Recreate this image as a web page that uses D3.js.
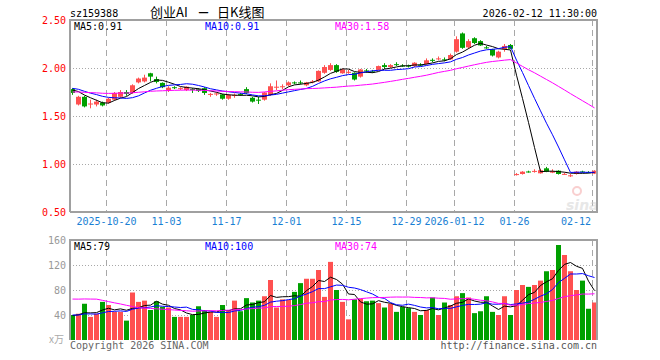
<!DOCTYPE html>
<html><head><meta charset="utf-8">
<script src="https://cdn.jsdelivr.net/npm/d3@7"></script>
<style>body{margin:0;background:#fff}svg{display:block}</style>
</head><body>
<svg id="c" width="660" height="360"></svg>
<script>
// ---------------- data ----------------
const dates = [
"2025-10-10","2025-10-13","2025-10-14","2025-10-15","2025-10-16","2025-10-17","2025-10-20","2025-10-21","2025-10-22","2025-10-23","2025-10-24","2025-10-27","2025-10-28","2025-10-29","2025-10-30","2025-10-31",
"2025-11-03","2025-11-04","2025-11-05","2025-11-06","2025-11-07","2025-11-10","2025-11-11","2025-11-12","2025-11-13","2025-11-14","2025-11-17","2025-11-18","2025-11-19","2025-11-20","2025-11-21","2025-11-24","2025-11-25","2025-11-26","2025-11-27","2025-11-28",
"2025-12-01","2025-12-02","2025-12-03","2025-12-04","2025-12-05","2025-12-08","2025-12-09","2025-12-10","2025-12-11","2025-12-12","2025-12-15","2025-12-16","2025-12-17","2025-12-18","2025-12-19","2025-12-22","2025-12-23","2025-12-24","2025-12-25","2025-12-26","2025-12-29","2025-12-30","2025-12-31",
"2026-01-05","2026-01-06","2026-01-07","2026-01-08","2026-01-09","2026-01-12","2026-01-13","2026-01-14","2026-01-15","2026-01-16","2026-01-19","2026-01-20","2026-01-21","2026-01-22","2026-01-23","2026-01-26","2026-01-27","2026-01-28","2026-01-29","2026-01-30",
"2026-02-02","2026-02-03","2026-02-04","2026-02-05","2026-02-06","2026-02-09","2026-02-10","2026-02-11","2026-02-12"];

const openP = [1.78,1.62,1.70,1.62,1.62,1.64,1.64,1.67,1.70,1.75,1.74,1.85,1.86,1.945,1.885,1.845,
1.77,1.80,1.78,1.77,1.78,1.78,1.79,1.725,1.73,1.725,1.68,1.715,1.73,1.78,1.69,1.67,1.67,1.72,1.80,1.80,
1.82,1.85,1.85,1.82,1.855,1.86,1.95,1.98,2.03,1.945,1.955,1.95,1.91,1.975,1.965,1.98,2.03,2.01,2.04,2.025,2.025,2.02,2.035,
2.04,2.085,2.095,2.09,2.09,2.17,2.36,2.215,2.31,2.28,2.215,2.195,2.11,2.195,2.24,0.89,0.896,0.922,0.925,0.903,
0.955,0.91,0.93,0.893,0.878,0.896,0.922,0.915,0.90];
const highP = [1.79,1.71,1.71,1.67,1.67,1.65,1.69,1.75,1.77,1.77,1.83,1.90,1.93,1.95,1.91,1.85,
1.81,1.81,1.80,1.81,1.79,1.79,1.80,1.74,1.745,1.73,1.73,1.735,1.74,1.80,1.70,1.70,1.75,1.84,1.87,1.83,
1.86,1.86,1.87,1.855,1.875,1.975,2.03,2.05,2.04,1.995,1.98,1.955,1.99,1.99,1.98,2.025,2.05,2.04,2.06,2.04,2.035,2.06,2.05,
2.10,2.10,2.12,2.11,2.15,2.33,2.37,2.30,2.32,2.29,2.23,2.20,2.18,2.25,2.25,0.905,0.925,0.93,0.945,0.95,
0.97,0.945,0.935,0.91,0.895,0.925,0.93,0.925,0.935];
const lowP = [1.72,1.61,1.59,1.58,1.60,1.60,1.63,1.66,1.69,1.71,1.73,1.84,1.85,1.86,1.84,1.79,
1.75,1.78,1.77,1.76,1.74,1.75,1.72,1.70,1.71,1.67,1.67,1.69,1.71,1.73,1.64,1.625,1.66,1.71,1.77,1.78,
1.81,1.83,1.83,1.81,1.84,1.855,1.94,1.97,1.95,1.94,1.94,1.87,1.90,1.95,1.95,1.975,1.99,2.00,2.02,2.01,2.005,2.01,2.02,
2.035,2.06,2.08,2.07,2.085,2.16,2.20,2.20,2.25,2.23,2.20,2.12,2.10,2.17,2.20,0.88,0.89,0.91,0.91,0.90,
0.915,0.905,0.89,0.89,0.865,0.89,0.91,0.905,0.895];
const closeP = [1.74,1.70,1.60,1.63,1.65,1.61,1.68,1.74,1.75,1.73,1.82,1.89,1.90,1.91,1.855,1.80,
1.795,1.795,1.79,1.805,1.77,1.76,1.74,1.73,1.735,1.68,1.72,1.72,1.72,1.74,1.65,1.665,1.745,1.81,1.805,1.81,
1.85,1.845,1.845,1.85,1.86,1.97,2.01,2.03,1.96,1.985,1.96,1.88,1.985,1.97,1.96,2.02,2.01,2.03,2.035,2.02,2.02,2.055,2.03,
2.08,2.08,2.10,2.085,2.135,2.30,2.21,2.28,2.26,2.235,2.21,2.13,2.17,2.23,2.20,0.895,0.92,0.92,0.928,0.935,
0.92,0.925,0.896,0.897,0.882,0.92,0.918,0.91,0.93];
// volume, unit 万
const volume = [40,42,58,37,42,61,56,45,45,31,76,61,63,48,62,53,
52,37,37,37,40,54,48,45,37,56,48,63,46,67,60,63,70,96,52,65,
64,77,91,98,98,112,69,125,80,61,33,65,66,62,63,59,52,58,45,53,51,45,40,
48,68,40,60,56,70,75,68,43,46,70,45,40,70,40,80,88,85,88,95,
110,112,152,136,110,80,95,50,60];
// closes / volumes of the 29 sessions before the first visible day (estimated from the starting MA levels)
const priorCloses = [1.70,1.72,1.71,1.73,1.74,1.72,1.70,1.69,1.71,1.73,1.75,1.74,1.76,1.75,1.74,1.72,1.73,1.75,1.76,1.78,1.80,1.81,1.82,1.80,1.79,1.79,1.78,1.77,1.78];
const priorVolumes = [45,50,42,45,120,115,105,100,95,130,120,80,68,80,72,70,58,55,55,60,42,40,38,45,40,35,42,38,40];

const priceTicks = [2.5,2.0,1.5,1.0,0.5];
const volTicks = [160,120,80,40];
const gridDates = ["2025-10-20","2025-11-03","2025-11-17","2025-12-01","2025-12-15","2025-12-29","2026-01-12","2026-01-26","2026-02-12"];
const gridLabels = ["2025-10-20","11-03","11-17","12-01","12-15","12-29","2026-01-12","01-26","02-12"];
const maPeriods = [5,10,30];
const maColors = ["#000000","#0000ff","#ff00ff"];
const code = "sz159388";
const titleParts = ["创业AI", "一", "日K线图"];
const stamp = "2026-02-12 11:30:00";

// ---------------- layout ----------------
const L = 70, R = 597, T = 20, B = 212, VT = 240, VB = 340;
const RED = "#ff5050", GREEN = "#00a000", GRID = "#a8a8a8", MONO = "'DejaVu Sans Mono','Liberation Mono',monospace";
const CJK = "'Noto Sans CJK SC',sans-serif";

const svg = d3.select("#c");
const x = d3.scaleBand().domain(dates).range([69.5, 597.5]).padding(0);
const cx = d => x(d) + 3;
const y = d3.scaleLinear().domain([0.5, 2.5]).range([B, T]);
const yv = d3.scaleLinear().domain([0, 160]).range([VB, VT]);

function ma(series, prior, n) {
  const full = prior.concat(series), off = prior.length;
  return series.map((_, i) => d3.mean(full.slice(i + off - n + 1, i + off + 1)));
}
const isUp = i => closeP[i] >= openP[i];

// clip paths
const defs = svg.append("defs");
defs.append("clipPath").attr("id","cp").append("rect").attr("x",L).attr("y",T).attr("width",R-L).attr("height",B-T);
defs.append("clipPath").attr("id","cv").append("rect").attr("x",L).attr("y",VT).attr("width",R-L).attr("height",VB-VT);

// header
svg.append("text").attr("x",L).attr("y",16.5).attr("font-family",MONO).attr("font-size",10).attr("fill","#000").text(code);
svg.append("text").attr("x",150).attr("y",16.5).attr("font-family",CJK).attr("font-size",13).attr("fill","#000").text(titleParts[0]);
svg.append("text").attr("x",203.5).attr("y",16.5).attr("text-anchor","middle").attr("font-family",CJK).attr("font-size",10).attr("font-weight","bold").attr("fill","#000").text(titleParts[1]);
svg.append("text").attr("x",217).attr("y",16.5).attr("font-family",CJK).attr("font-size",13).attr("fill","#000").text(titleParts[2]);
svg.append("text").attr("x",R).attr("y",16.5).attr("text-anchor","end").attr("font-family",MONO).attr("font-size",10).attr("fill","#000").text(stamp);

// grids main
const gMain = svg.append("g");
gMain.selectAll("line.h").data(priceTicks.slice(1,-1)).join("line")
  .attr("x1",L).attr("x2",R).attr("y1",d=>Math.round(y(d))+0.5).attr("y2",d=>Math.round(y(d))+0.5)
  .attr("stroke",GRID).attr("stroke-dasharray","1,2");
gMain.selectAll("line.v").data(gridDates).join("line")
  .attr("x1",d=>x(d)+1).attr("x2",d=>x(d)+1).attr("y1",T).attr("y2",B)
  .attr("stroke",GRID).attr("stroke-dasharray","6,4");
// grids volume
const gVol = svg.append("g");
gVol.selectAll("line.h").data(volTicks.slice(1)).join("line")
  .attr("x1",L).attr("x2",R).attr("y1",d=>Math.round(yv(d))+0.5).attr("y2",d=>Math.round(yv(d))+0.5)
  .attr("stroke",GRID).attr("stroke-dasharray","1,2");
gVol.selectAll("line.v").data(gridDates).join("line")
  .attr("x1",d=>x(d)+1).attr("x2",d=>x(d)+1).attr("y1",VT).attr("y2",VB)
  .attr("stroke",GRID).attr("stroke-dasharray","6,4");

// watermark
const wm = svg.append("g").attr("opacity",0.5);
wm.append("circle").attr("cx",577).attr("cy",191).attr("r",4).attr("fill","none").attr("stroke","#f4a0a0").attr("stroke-width",2);
wm.append("text").attr("x",566).attr("y",210).attr("font-family","'DejaVu Sans',sans-serif").attr("font-style","italic").attr("font-weight","bold").attr("font-size",14).attr("fill","#d0d0d0").text("sina");

// candles
const gC = svg.append("g").attr("clip-path","url(#cp)");
const idx = d3.range(dates.length);
gC.selectAll("line.w").data(idx).join("line")
  .attr("x1",i=>cx(dates[i])).attr("x2",i=>cx(dates[i]))
  .attr("y1",i=>y(highP[i])).attr("y2",i=>y(lowP[i]))
  .attr("stroke",i=>isUp(i)?RED:GREEN).attr("stroke-width",1);
gC.selectAll("rect").data(idx).join("rect")
  .attr("x",i=>x(dates[i])+0.5).attr("width",5)
  .attr("y",i=>Math.min(y(openP[i]),y(closeP[i])))
  .attr("height",i=>Math.max(1,Math.abs(y(openP[i])-y(closeP[i]))))
  .attr("fill",i=>isUp(i)?RED:GREEN);

// MA lines price
const priceMA = maPeriods.map(n => ma(closeP, priorCloses, n));
priceMA.forEach((arr, k) => {
  gC.append("path").datum(arr)
    .attr("d", d3.line().x((d,i)=>cx(dates[i])).y(d=>y(d)))
    .attr("fill","none").attr("stroke",maColors[k]).attr("stroke-width",1);
});

// volume bars
const gV = svg.append("g").attr("clip-path","url(#cv)");
gV.selectAll("rect").data(idx).join("rect")
  .attr("x",i=>x(dates[i])+0.5).attr("width",5)
  .attr("y",i=>yv(volume[i])).attr("height",i=>VB-yv(volume[i]))
  .attr("fill",i=>isUp(i)?RED:GREEN);
const volMA = maPeriods.map(n => ma(volume, priorVolumes, n));
volMA.forEach((arr, k) => {
  gV.append("path").datum(arr)
    .attr("d", d3.line().x((d,i)=>cx(dates[i])).y(d=>yv(d)))
    .attr("fill","none").attr("stroke",maColors[k]).attr("stroke-width",1);
});

// borders
const bc = "#a0a0a0";
svg.append("path").attr("d",`M${L},${B}V${T}H${R}V${B}H${L}`).attr("fill","none").attr("stroke",bc).attr("stroke-width",2);
svg.append("path").attr("d",`M${L},${VB}V${VT}H${R}V${VB}`).attr("fill","none").attr("stroke",bc).attr("stroke-width",2);

// axis labels
svg.selectAll("text.py").data(priceTicks).join("text")
  .attr("x",66).attr("y",d=>y(d)+4).attr("text-anchor","end")
  .attr("font-family",MONO).attr("font-size",10).attr("fill","#ff0000").text(d=>d3.format(".2f")(d));
svg.selectAll("text.vy").data(volTicks).join("text")
  .attr("x",66).attr("y",d=>yv(d)+4).attr("text-anchor","end")
  .attr("font-family",MONO).attr("font-size",10).attr("fill","#999").text(d=>d);
svg.append("text").attr("x",64).attr("y",VB+3).attr("text-anchor","end")
  .attr("font-family",CJK).attr("font-size",10).attr("fill","#aaa").text("x万");
svg.selectAll("text.xl").data(gridDates).join("text")
  .attr("x",(d,i)=> i===gridDates.length-1 ? 591 : x(d)+1)
  .attr("text-anchor",(d,i)=> i===gridDates.length-1 ? "end" : "middle")
  .attr("y",225).attr("font-family",MONO).attr("font-size",10).attr("fill","#1a7fd4")
  .text((d,i)=>gridLabels[i]);

// MA legends
const last = dates.length - 1;
const legX = [74, 205, 335];
maPeriods.forEach((n,k)=>{
  svg.append("text").attr("x",legX[k]).attr("y",29.5).attr("font-family",MONO).attr("font-size",10)
    .attr("fill",maColors[k]).text(`MA${n}:${d3.format(".2f")(priceMA[k][last])}`);
  svg.append("text").attr("x",legX[k]).attr("y",249.5).attr("font-family",MONO).attr("font-size",10)
    .attr("fill",maColors[k]).text(`MA${n}:${d3.format(".0f")(volMA[k][last])}`);
});

// footer
svg.append("text").attr("x",L).attr("y",348.5).attr("font-family",MONO).attr("font-size",10).attr("fill","#666").text("Copyright 2026 SINA.COM");
svg.append("text").attr("x",R).attr("y",348.5).attr("text-anchor","end").attr("font-family",MONO).attr("font-size",10).attr("fill","#555").text("http://finance.sina.com.cn");
</script>
</body></html>
